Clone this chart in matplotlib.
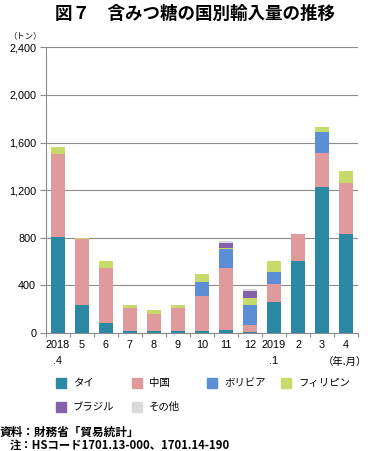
import matplotlib
matplotlib.use("Agg")
import matplotlib.pyplot as plt
import numpy as np
from matplotlib.patches import Rectangle

plt.rcParams['font.family'] = ['Noto Sans CJK JP', 'DejaVu Sans']

months = ["2018\n.4", "5", "6", "7", "8", "9", "10", "11", "12", "2019\n.1", "2", "3", "4"]
series_names = ["タイ", "中国", "ボリビア", "フィリピン", "ブラジル", "その他"]
thai        = [805, 238, 81, 14, 14, 14, 14, 22, 6, 258, 600, 1225, 830]
china       = [700, 552, 466, 193, 146, 193, 294, 527, 61, 151, 230, 286, 429]
bolivia     = [0, 0, 0, 0, 0, 0, 118, 155, 171, 104, 0, 174, 0]
philippines = [60, 6, 53, 31, 33, 28, 67, 11, 56, 92, 0, 42, 98]
brazil      = [0, 0, 0, 0, 0, 0, 0, 39, 59, 0, 0, 0, 0]
others      = [0, 0, 0, 0, 0, 0, 0, 17, 17, 0, 0, 0, 0]
yticks = [0, 400, 800, 1200, 1600, 2000, 2400]

colors = ["#2C89A4", "#E09A9B", "#5B8ED6", "#C7DB6B", "#8561AB", "#DADADA"]
data = [thai, china, bolivia, philippines, brazil, others]

fig = plt.figure(figsize=(3.73, 4.51), dpi=100)
ax = fig.add_axes([0.123, 0.262, 0.837, 0.633])

x = np.arange(len(months))
bottom = np.zeros(len(months))
for vals, c in zip(data, colors):
    ax.bar(x, vals, bottom=bottom, width=0.56, color=c, zorder=3, linewidth=0)
    bottom += np.array(vals)

latin = ['Liberation Sans', 'DejaVu Sans']
ax.set_ylim(0, 2400)
ax.set_xlim(-0.5, len(months) - 0.5)
ax.set_yticks(yticks)
ax.set_yticklabels([f"{v:,}" for v in yticks], fontsize=7.8, family=latin)
ax.yaxis.grid(True, color="#8C8C8C", linewidth=0.8, zorder=0)
ax.set_axisbelow(True)
for s in ["top", "right"]:
    ax.spines[s].set_visible(False)
ax.spines["left"].set_color("#8C8C8C")
ax.spines["bottom"].set_color("#8C8C8C")
ax.tick_params(axis="y", length=4, width=0.8, color="#8C8C8C", pad=3)
ax.set_xticks(x)
ax.set_xticklabels(months, fontsize=7.8, family=latin, linespacing=1.75, va="top")
ax.tick_params(axis="x", length=0, pad=5)
ax.set_xticks(np.arange(len(months) + 1) - 0.5, minor=True)
ax.tick_params(axis="x", which="minor", length=3, width=0.8, color="#8C8C8C")

fig.text(0.068, 0.92, "（トン）", fontsize=6, ha="center", va="center")
fig.text(0.985, 1 - 362 / 451, "（年.月）", fontsize=7.5, ha="right", va="center")

fig.text(0.523, 0.968, "図７　含みつ糖の国別輸入量の推移", fontsize=12.6, fontweight="bold",
         ha="center", va="center")

# legend
lx = [56, 132, 207, 281]
ly = [383, 407]
for i, (name, c) in enumerate(zip(series_names, colors)):
    col, row = i % 4, i // 4
    px, py = lx[col], ly[row]
    fig.patches.append(Rectangle((px / 373, 1 - (py + 5) / 451), 10 / 373, 10 / 451,
                                 transform=fig.transFigure, color=c, figure=fig))
    fig.text((px + 17) / 373, 1 - py / 451, name, fontsize=7.5, ha="left", va="center")

fig.text(0.0, 1 - 432 / 451, "資料：財務省「貿易統計」", fontsize=8.4, fontweight="bold", ha="left", va="center")
fig.text(10 / 373, 1 - 445 / 451, "注：HSコード1701.13-000、1701.14-190", fontsize=8.2, fontweight="bold",
         ha="left", va="center")

fig.savefig("out.png", dpi=100)
